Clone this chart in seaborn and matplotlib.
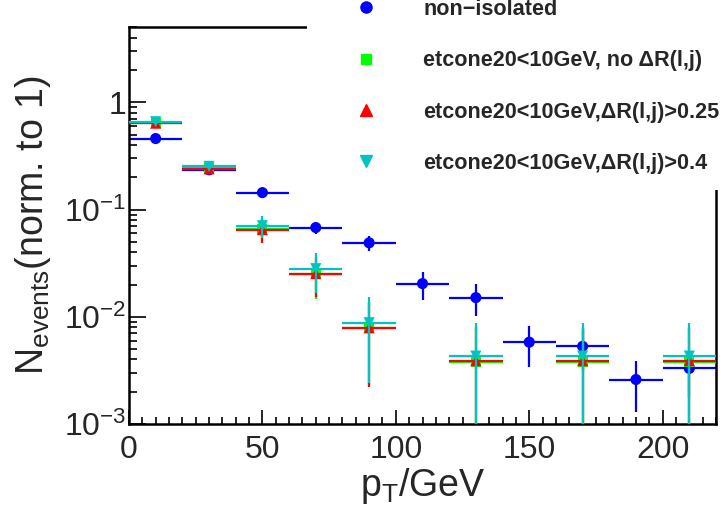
import numpy as np
import pandas as pd
import matplotlib
matplotlib.use("Agg")
import matplotlib.pyplot as plt
import matplotlib.ticker as mticker
from matplotlib.lines import Line2D
from matplotlib.patches import Rectangle
import seaborn as sns

# ---------------- data ----------------
bin_half_width = 10.0
x_noniso = [10, 30, 50, 70, 90, 110, 130, 150, 170, 190, 210]
y_noniso = [0.46, 0.235, 0.144, 0.068, 0.049, 0.0204, 0.0151, 0.0058, 0.0053, 0.0026, 0.0033]
e_noniso = [0.012, 0.008, 0.006, 0.009, 0.008, 0.006, 0.005, 0.0024, 0.0022, 0.0013, 0.0015]

x_iso = [10, 30, 50, 70, 90, 130, 170, 210]
y_nodr = [0.645, 0.245, 0.066, 0.0253, 0.0079, 0.0038, 0.0038, 0.0038]
e_nodr = [0.02, 0.01, 0.015, 0.0105, 0.0057, 0.0040, 0.0040, 0.0040]
y_dr025 = [0.64, 0.24, 0.065, 0.0253, 0.0079, 0.0039, 0.0039, 0.0039]
e_dr025 = [0.02, 0.01, 0.016, 0.0100, 0.0057, 0.0042, 0.0042, 0.0042]
y_dr04 = [0.66, 0.253, 0.0707, 0.0281, 0.0088, 0.0043, 0.0043, 0.0043]
e_dr04 = [0.02, 0.01, 0.0165, 0.0113, 0.0064, 0.0045, 0.0045, 0.0045]

labels = ["non\u2212isolated",
          "etcone20<10GeV, no \u0394R(l,j)",
          "etcone20<10GeV,\u0394R(l,j)>0.25",
          "etcone20<10GeV,\u0394R(l,j)>0.4"]
colors = ["#0000ff", "#00ff00", "#ff0000", "#00c4c4"]
markers = ["o", "s", "^", "v"]
msizes = [64, 50, 64, 64]

series = [(x_noniso, y_noniso, e_noniso),
          (x_iso, y_nodr, e_nodr),
          (x_iso, y_dr025, e_dr025),
          (x_iso, y_dr04, e_dr04)]

# ---------------- style ----------------
sns.set_style("ticks")
plt.rcParams['font.family'] = ['Liberation Sans', 'DejaVu Sans']
plt.rcParams['mathtext.fontset'] = 'custom'
plt.rcParams['mathtext.rm'] = 'Liberation Sans'
plt.rcParams['mathtext.it'] = 'Liberation Sans:italic'
plt.rcParams['mathtext.bf'] = 'Liberation Sans:bold'

fig = plt.figure(figsize=(7.26, 5.18), dpi=100)
ax = fig.add_axes([129/726, 1-424/518, (716-129)/726, (424-27)/518])

for i, (xs, ys, es) in enumerate(series):
    xs = np.asarray(xs, float); ys = np.asarray(ys, float); es = np.asarray(es, float)
    lower = np.where(es >= ys, ys - 1e-7, es)
    ax.errorbar(xs, ys, xerr=bin_half_width, yerr=[lower, es], fmt='none',
                ecolor=colors[i], elinewidth=1.6, capsize=0, zorder=2 + i)
    df = pd.DataFrame({"x": xs, "y": ys})
    sns.scatterplot(data=df, x="x", y="y", marker=markers[i], color=colors[i],
                    s=msizes[i], linewidth=0, edgecolor='none', ax=ax, zorder=2.5 + i)

ax.set_yscale('log')
ax.set_xlim(0, 220)
ax.set_ylim(1e-3, 5.05)

def yfmt(v, pos):
    e = int(round(np.log10(v)))
    if e == 0:
        return "1"
    return r"$10^{%d}$" % e

ax.yaxis.set_major_locator(mticker.LogLocator(base=10, numticks=10))
ax.yaxis.set_minor_locator(mticker.LogLocator(base=10, subs=np.arange(2, 10), numticks=20))
ax.yaxis.set_major_formatter(mticker.FuncFormatter(yfmt))
ax.yaxis.set_minor_formatter(mticker.NullFormatter())
ax.xaxis.set_major_locator(mticker.MultipleLocator(50))
ax.xaxis.set_minor_locator(mticker.MultipleLocator(5))

ax.tick_params(axis='both', which='both', direction='in', top=False, right=False,
               width=1.2, color='black', labelsize=23)
ax.tick_params(axis='y', which='major', length=12, pad=2)
ax.tick_params(axis='y', which='minor', length=6)
ax.tick_params(axis='x', which='major', length=10, pad=8)
ax.tick_params(axis='x', which='minor', length=5)
for s in ax.spines.values():
    s.set_linewidth(1.8)
    s.set_color('black')

ax.set_xlabel(r"p$_{\mathrm{T}}$/GeV", fontsize=27)
ax.set_ylabel(r"N$_{\mathrm{events}}$(norm. to 1)", fontsize=27)
ax.xaxis.set_label_coords(0.5, -0.105)
ax.yaxis.set_label_coords(-0.13, 0.5)

# white legend box covering part of the frame (as in the ROOT canvas)
fig.add_artist(Rectangle((307/726, 1-190/518), 1-307/726, 190/518,
                         transform=fig.transFigure, facecolor='white',
                         edgecolor='none', zorder=1))

handles = [Line2D([], [], linestyle='none', marker=m, color=c, markersize=8 if m != 's' else 7)
           for m, c in zip(markers, colors)]
leg = fig.legend(handles, labels, loc='upper left', bbox_to_anchor=(355/726, 1.002),
                 frameon=False, borderpad=0, borderaxespad=0, handlelength=1.0,
                 handletextpad=2.15, labelspacing=1.40,
                 prop={'weight': 'bold', 'size': 15.6})
leg.set_zorder(5)

fig.savefig("out.png", dpi=100)
